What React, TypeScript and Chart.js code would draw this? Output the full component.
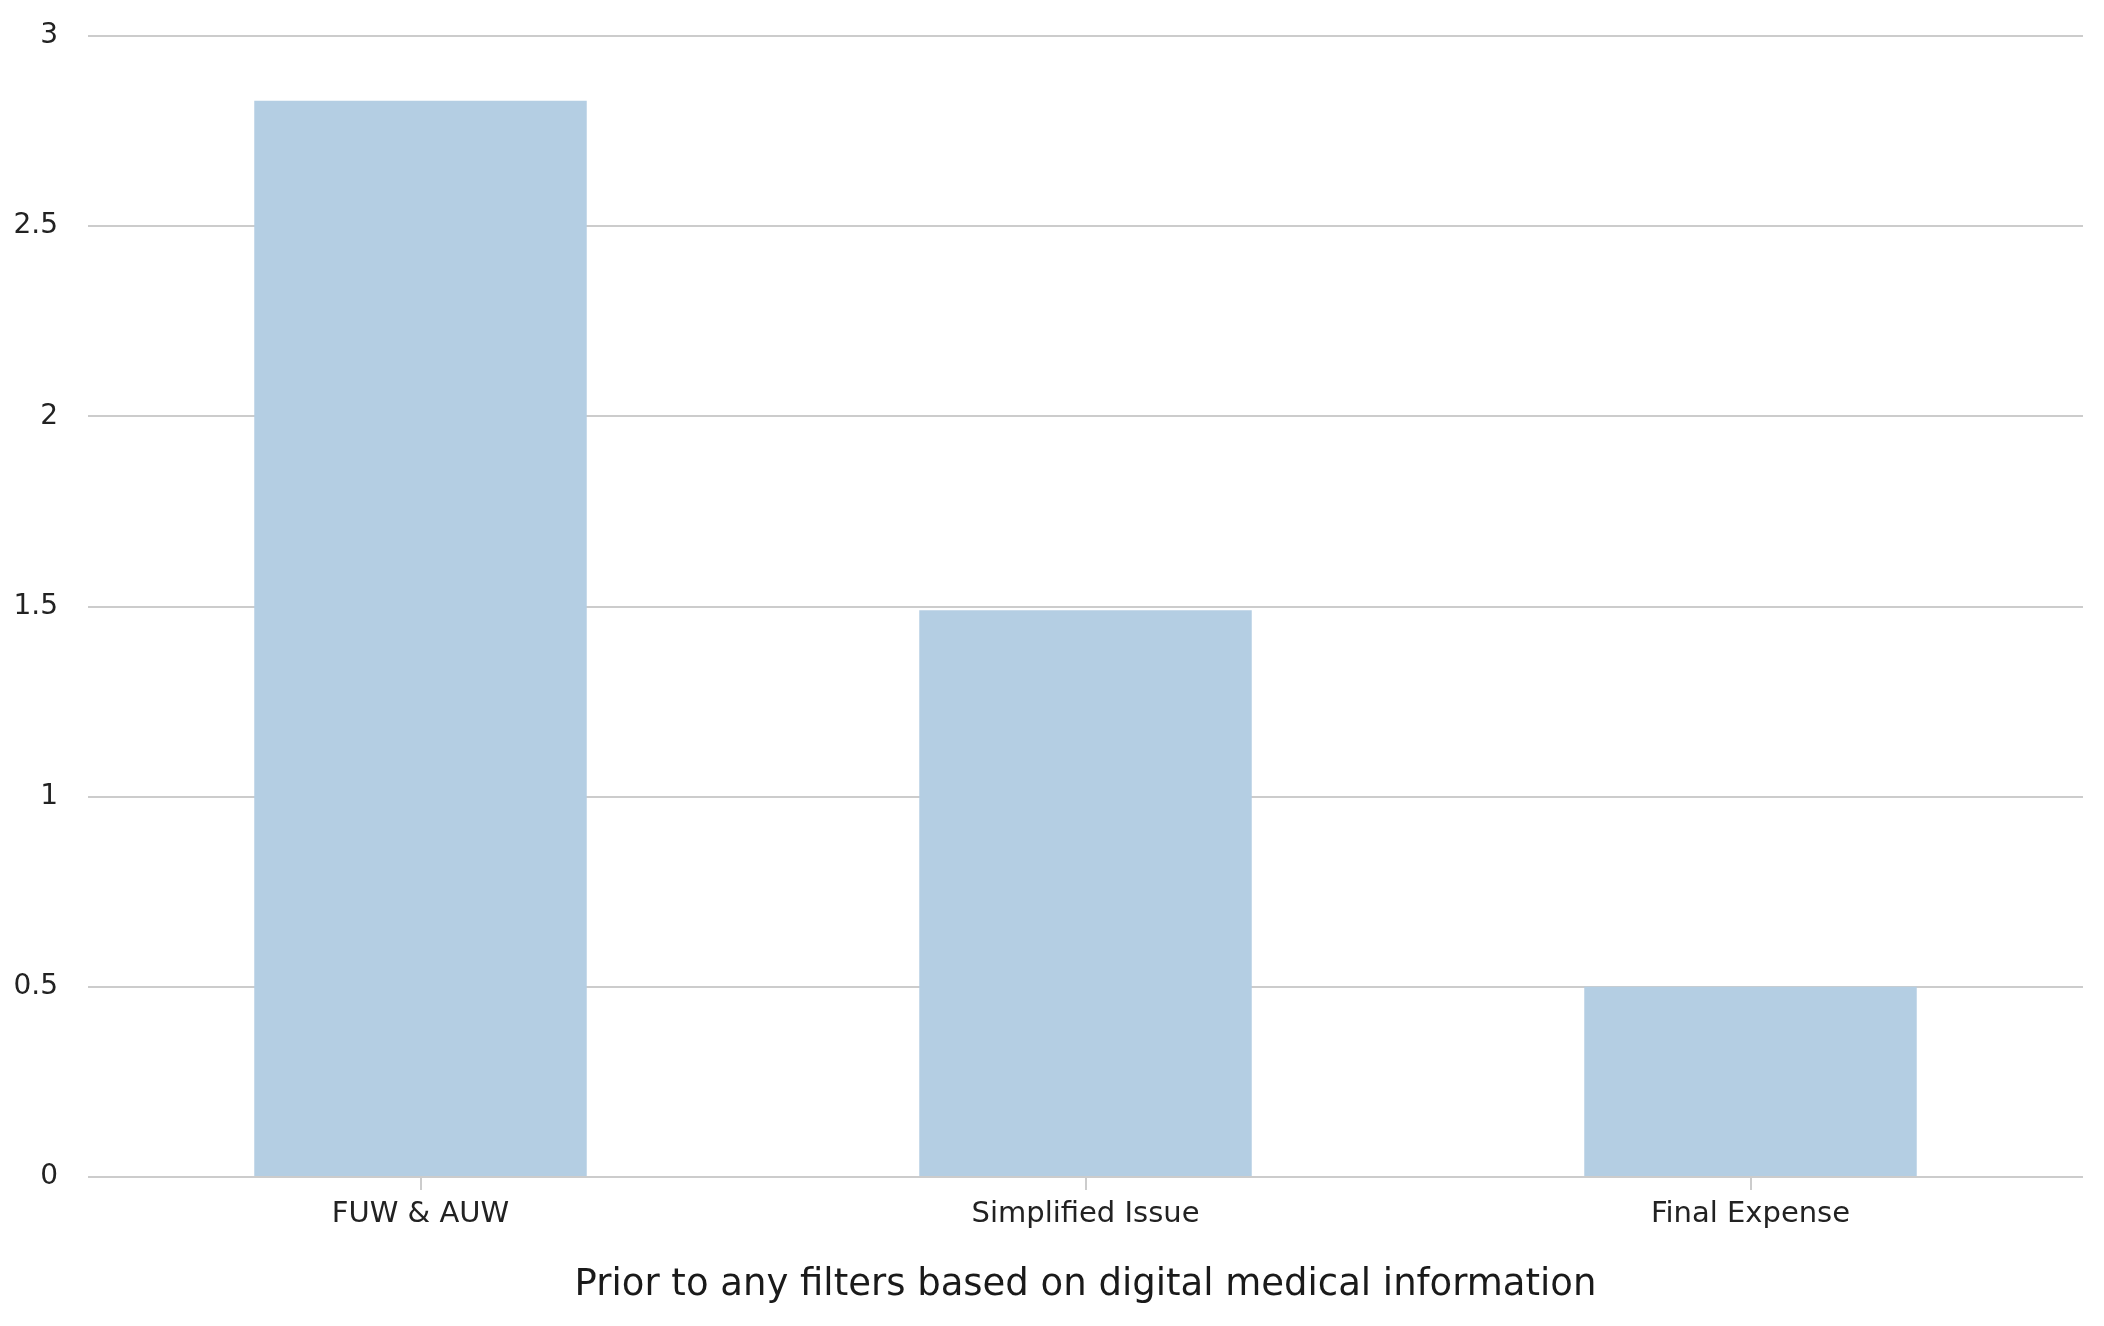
import React, { useEffect, useRef } from "react";
import { Chart, registerables } from "chart.js";

Chart.register(...registerables);

const categories = ["FUW & AUW", "Simplified Issue", "Final Expense"];
const values = [2.83, 1.49, 0.5];
const yTicks = [0, 0.5, 1, 1.5, 2, 2.5, 3];
const xTitle = "Prior to any filters based on digital medical information";

const FONT = "'DejaVu Sans', sans-serif";

export default function App() {
  const ref = useRef<HTMLCanvasElement | null>(null);

  useEffect(() => {
    document.body.style.margin = "0";
    const canvas = ref.current;
    if (!canvas) return;
    const chart = new Chart(canvas, {
      type: "bar",
      data: {
        labels: categories,
        datasets: [
          {
            data: values,
            backgroundColor: "#b4cee3",
            borderWidth: 0,
            categoryPercentage: 1,
            barPercentage: 0.5,
          },
        ],
      },
      options: {
        responsive: false,
        animation: false,
        maintainAspectRatio: false,
        layout: { padding: { left: 0, right: 21, top: 36, bottom: 0 } },
        plugins: { legend: { display: false }, tooltip: { enabled: false } },
        scales: {
          x: {
            grid: {
              display: true,
              offset: false,
              drawOnChartArea: false,
              drawTicks: true,
              tickLength: 13,
              color: "#cccccc",
              lineWidth: 2,
            },
            border: { display: false },
            ticks: {
              color: "#222222",
              font: { family: FONT, size: 29 },
              padding: 7,
            },
            title: {
              display: true,
              text: xTitle,
              color: "#1a1a1a",
              font: { family: FONT, size: 37 },
              padding: { top: 0, bottom: 18 },
            },
            afterFit: (scale: any) => {
              scale.height = 149;
              scale.paddingLeft = 0;
              scale.paddingRight = 0;
            },
          },
          y: {
            min: 0,
            max: 3,
            afterBuildTicks: (scale: any) => {
              scale.ticks = yTicks.map((v) => ({ value: v }));
            },
            grid: {
              color: "#cccccc",
              lineWidth: 2,
              drawTicks: false,
            },
            border: { display: false },
            ticks: {
              color: "#222222",
              font: { family: FONT, size: 28 },
              padding: 30,
              callback: (v: any) => String(v),
            },
            afterFit: (scale: any) => {
              scale.width = 88;
              scale.paddingTop = 0;
              scale.paddingBottom = 0;
            },
          },
        },
      },
    });
    return () => chart.destroy();
  }, []);

  return <canvas ref={ref} width={2104} height={1326} style={{ display: "block" }} />;
}
